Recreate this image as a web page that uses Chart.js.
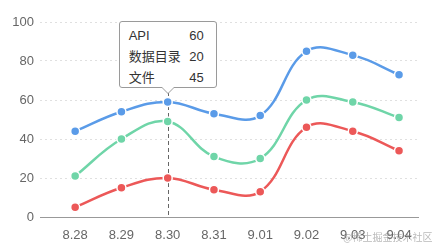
<!DOCTYPE html>
<html><head><meta charset="utf-8">
<script src="https://cdn.jsdelivr.net/npm/chart.js@4"></script>
<style>
html,body{margin:0;padding:0;background:#fff}
#wrap{position:relative;width:438px;height:251px;overflow:hidden}
#c{display:block}
#tip{position:absolute;display:none;box-sizing:border-box;width:98px;height:67px;padding:3px 12px 0 9px;background:#fff;border:1px solid #9a9a9a;border-radius:3px;font:13px "Liberation Sans","Noto Sans CJK SC",sans-serif;color:#333}
#tip .row{display:flex;justify-content:space-between;line-height:21px}
#tip:before,#tip:after{content:"";position:absolute;left:50%;border:solid transparent}
#tip:before{top:100%;margin-left:-7px;border-width:7px;border-top-color:#9a9a9a}
#tip:after{top:100%;margin-left:-6px;border-width:6px;border-top-color:#fff}
#wm{position:absolute;left:343px;top:229px;font:10px "Noto Sans CJK SC",sans-serif;color:rgba(140,140,140,.6);white-space:nowrap}
</style></head>
<body>
<div id="wrap"><canvas id="c" width="438" height="251"></canvas><div id="tip"></div><div id="wm">@稀土掘金技术社区</div></div>
<script>
const $=id=>document.getElementById(id);
const labels=["8.28","8.29","8.30","8.31","9.01","9.02","9.03","9.04"];
const apiVals=[44,54,59,53,52,85,83,73];
const dirVals=[5,15,20,14,13,46,44,34];
const fileVals=[21,40,49,31,30,60,59,51];
const yTicks=[0,20,40,60,80,100];
// tooltip as shown in the picture (at 8.30)
const tipNames=["API","数据目录","文件"];
const tipVals=[60,20,45];
const tipAt=2;

const AZUL="#5a9be8",VERM="#ec5858",VERDE="#6fd5a8";
const FONT={family:'"Liberation Sans","Noto Sans CJK SC",sans-serif',size:13};
const pts=a=>a.map((v,i)=>({x:i,y:v}));
const serie=(label,data,cor)=>({label,data:pts(data),borderColor:cor,backgroundColor:cor,borderWidth:2.5,
  tension:.4,pointRadius:4.5,pointHoverRadius:4.5,pointBorderColor:"#fff",pointBorderWidth:1.5,
  pointHoverBackgroundColor:cor,pointHoverBorderColor:"#fff",pointHoverBorderWidth:1.5});

const crosshair={id:"cross",beforeDatasetsDraw(ch){
  const a=ch.getActiveElements();if(!a.length)return;
  const x=ch.scales.x.getPixelForValue(a[0].index),ctx=ch.ctx;
  ctx.save();ctx.strokeStyle="#666";ctx.lineWidth=1;ctx.setLineDash([4,3]);
  ctx.beginPath();ctx.moveTo(Math.round(x)+.5,ch.chartArea.top);ctx.lineTo(Math.round(x)+.5,ch.chartArea.bottom);ctx.stroke();ctx.restore();
}};

const chart=new Chart($("c"),{type:"line",
  data:{datasets:[serie("API",apiVals,AZUL),serie("数据目录",dirVals,VERM),serie("文件",fileVals,VERDE)]},
  options:{responsive:false,animation:false,
    layout:{padding:{top:22,right:20,left:0,bottom:0}},
    interaction:{mode:"index",intersect:false},
    plugins:{legend:{display:false},
      tooltip:{enabled:false,external:({chart,tooltip})=>{
        const el=$("tip");
        if(!tooltip.opacity||!tooltip.dataPoints||!tooltip.dataPoints.length){el.style.display="none";return;}
        const i=tooltip.dataPoints[0].dataIndex;
        const vals=i===tipAt?tipVals:[apiVals[i],dirVals[i],fileVals[i]];
        el.innerHTML=tipNames.map((n,k)=>`<div class="row"><span>${n}</span><span>${vals[k]}</span></div>`).join("");
        el.style.display="block";
        const x=chart.scales.x.getPixelForValue(i),y=chart.scales.y.getPixelForValue(apiVals[i]);
        el.style.left=(x-el.offsetWidth/2)+"px";el.style.top=(y-el.offsetHeight-14)+"px";
      }}},
    scales:{
      x:{type:"linear",min:-0.76,max:7.41,
        afterBuildTicks:s=>{s.ticks=labels.map((_,i)=>({value:i}))},
        afterFit:s=>{s.height=34},
        grid:{display:false,drawTicks:false},
        border:{display:true,color:"#999",width:1},
        ticks:{padding:11,color:"#666",font:FONT,maxRotation:0,autoSkip:false,callback:v=>labels[v]}},
      y:{min:0,max:100,
        afterBuildTicks:s=>{s.ticks=yTicks.map(v=>({value:v}))},
        afterFit:s=>{s.width=40},
        grid:{color:"#e0e0e0",drawTicks:false},
        border:{display:false,dash:[2,3]},
        ticks:{padding:6,color:"#666",font:FONT}}
    }},
  plugins:[crosshair]});

const act=[0,1,2].map(d=>({datasetIndex:d,index:tipAt}));
chart.setActiveElements(act);
chart.tooltip.setActiveElements(act,{x:chart.scales.x.getPixelForValue(tipAt),y:chart.scales.y.getPixelForValue(apiVals[tipAt])});
chart.update("none");
</script>
</body></html>
